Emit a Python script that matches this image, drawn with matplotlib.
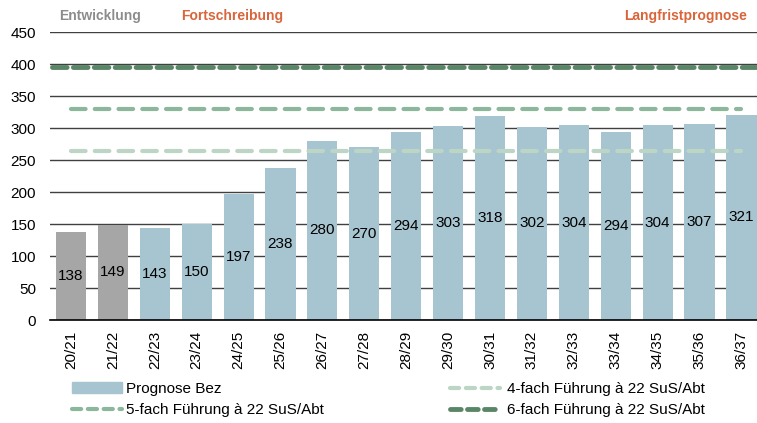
import matplotlib.pyplot as plt
from matplotlib.lines import Line2D
from matplotlib.patches import Patch

plt.rcParams['font.family'] = ['Liberation Sans', 'DejaVu Sans']

jahre = ["20/21", "21/22", "22/23", "23/24", "24/25", "25/26", "26/27", "27/28", "28/29",
         "29/30", "30/31", "31/32", "32/33", "33/34", "34/35", "35/36", "36/37"]
schueler = [138, 149, 143, 150, 197, 238, 280, 270, 294, 303, 318, 302, 304, 294, 304, 307, 321]
n_entwicklung = 2
vierfach = 264
fuenffach = 330
sechsfach = 396

fig = plt.figure(figsize=(7.57, 4.23), dpi=100)
ax = fig.add_axes([50 / 757, 103 / 423, 707 / 757, 288 / 423])

farben = ['#a6a6a6' if i < n_entwicklung else '#a7c5d0' for i in range(len(jahre))]
x = list(range(len(jahre)))
ax.bar(x, schueler, width=0.72, color=farben, zorder=2)
for xi, v in zip(x, schueler):
    ax.text(xi, v / 2, str(v), ha='center', va='center', fontsize=11, color='black', zorder=4)

# Führungslinien
ax.plot([0, 16], [vierfach] * 2, color='#bcd5c4', lw=3, ls=(0, (3.5, 2.2)),
        dash_capstyle='round', zorder=3)
ax.plot([0, 16], [fuenffach] * 2, color='#8db79d', lw=3, ls=(0, (3.5, 2.2)),
        dash_capstyle='round', zorder=3)
ax.plot([-0.45, 16.4], [sechsfach] * 2, color='#5a8668', lw=3.5, ls=(0, (3, 1.3)),
        dash_capstyle='round', zorder=3)

ax.set_xlim(-0.5, 16.37)
ax.set_ylim(0, 450)
ax.set_yticks(range(0, 451, 50))
ax.yaxis.grid(True, color='#404040', lw=1, zorder=1)
ax.set_axisbelow(True)
ax.set_xticks(x)
ax.set_xticklabels(jahre, rotation=90, fontsize=11)
ax.tick_params(axis='y', length=0, labelsize=11, pad=10)
ax.tick_params(axis='x', length=0, pad=8)
for s in ['left', 'right', 'top']:
    ax.spines[s].set_visible(False)
ax.spines['bottom'].set_color('black')
ax.spines['bottom'].set_linewidth(1.2)

fig.text(100 / 757, 1 - 16 / 423, "Entwicklung", color='#8c8c8c', fontsize=10,
         fontweight='bold', ha='center', va='center')
fig.text(232 / 757, 1 - 16 / 423, "Fortschreibung", color='#d9653b', fontsize=10,
         fontweight='bold', ha='center', va='center')
fig.text(686 / 757, 1 - 16 / 423, "Langfristprognose", color='#d9653b', fontsize=10,
         fontweight='bold', ha='center', va='center')

h_bez = Patch(color='#a7c5d0')
h4 = Line2D([], [], color='#bcd5c4', lw=3, ls=(0, (2.2, 1.6)), dash_capstyle='round')
h5 = Line2D([], [], color='#8db79d', lw=3, ls=(0, (2.2, 1.6)), dash_capstyle='round')
h6 = Line2D([], [], color='#5a8668', lw=3.5, ls=(0, (2.2, 1.3)), dash_capstyle='round')
fig.legend([h_bez, h5], ["Prognose Bez", "5-fach Führung à 22 SuS/Abt"],
           loc='upper left', bbox_to_anchor=(72 / 757, 1 - 382 / 423),
           frameon=False, fontsize=11, handlelength=3.3, handletextpad=0.25,
           labelspacing=0.45, borderpad=0, borderaxespad=0)
fig.legend([h4, h6], ["4-fach Führung à 22 SuS/Abt", "6-fach Führung à 22 SuS/Abt"],
           loc='upper left', bbox_to_anchor=(450 / 757, 1 - 382 / 423),
           frameon=False, fontsize=11, handlelength=3.3, handletextpad=0.4,
           labelspacing=0.45, borderpad=0, borderaxespad=0)

fig.savefig("out.png", dpi=100)
